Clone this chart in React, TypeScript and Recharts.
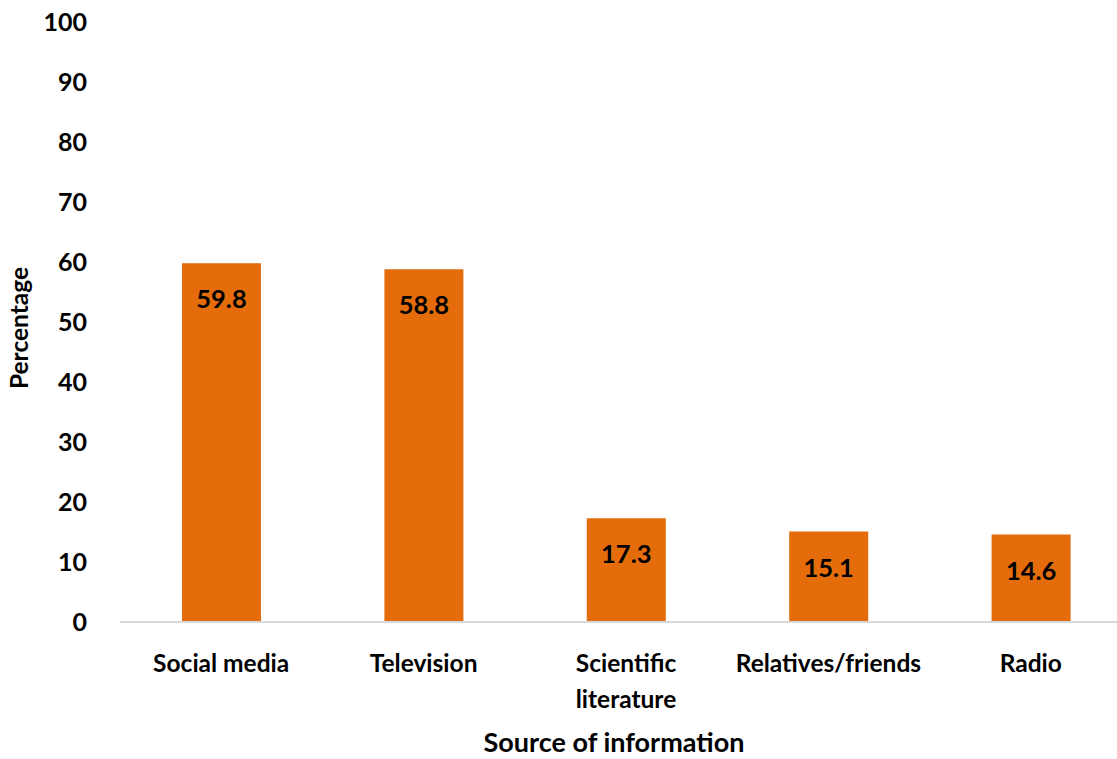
import { BarChart, Bar, XAxis, YAxis, LabelList } from "recharts";

const categories = ["Social media", "Television", "Scientific literature", "Relatives/friends", "Radio"];
const tickLines = [["Social media"], ["Television"], ["Scientific", "literature"], ["Relatives/friends"], ["Radio"]];
const percentages = [59.8, 58.8, 17.3, 15.1, 14.6];
const yTicks = [0, 10, 20, 30, 40, 50, 60, 70, 80, 90, 100];

const data = categories.map((name, i) => ({ name, value: percentages[i] }));

const FONT = "Lato, 'Liberation Sans', sans-serif";

const CategoryTick = (props: any) => {
  const { x, y, payload } = props;
  const lines = tickLines[payload.index] || [payload.value];
  return (
    <text x={x} y={y} textAnchor="middle" fontFamily={FONT} fontWeight={700} fontSize={24.5} fill="#000">
      {lines.map((line, i) => (
        <tspan key={i} x={x} dy={i === 0 ? 50 : 36}>
          {line}
        </tspan>
      ))}
    </text>
  );
};

const YTitle = (props: any) => {
  const { viewBox } = props;
  const cy = viewBox.y + viewBox.height / 2 + 6;
  return (
    <text
      x={28}
      y={cy}
      transform={`rotate(-90 28 ${cy})`}
      textAnchor="middle"
      fontFamily={FONT}
      fontWeight={700}
      fontSize={24.5}
      fill="#000"
    >
      Percentage
    </text>
  );
};

const XTitle = (props: any) => {
  const { viewBox } = props;
  const cx = viewBox.x + viewBox.width / 2 - 12;
  return (
    <text x={cx} y={752} textAnchor="middle" fontFamily={FONT} fontWeight={700} fontSize={27} fill="#000">
      Source of information
    </text>
  );
};

export default function App() {
  return (
    <div
      style={{
        position: "absolute",
        top: 0,
        left: 0,
        width: 1117,
        height: 759,
        overflow: "hidden",
        background: "#fff",
      }}
    >
      <BarChart
        width={1132}
        height={759}
        data={data}
        margin={{ top: 22, right: 0, bottom: 0, left: 0 }}
      >
        <XAxis
          dataKey="name"
          height={137}
          interval={0}
          tickLine={false}
          tickSize={0}
          tickMargin={0}
          axisLine={{ stroke: "#d9d9d9", strokeWidth: 2 }}
          tick={<CategoryTick />}
          label={<XTitle />}
        />
        <YAxis
          width={120}
          domain={[0, 100]}
          ticks={yTicks}
          interval={0}
          axisLine={false}
          tickLine={false}
          tickSize={0}
          tickMargin={33}
          tick={{ fontFamily: FONT, fontWeight: 700, fontSize: 25, fill: "#000" }}
          label={<YTitle />}
        />
        <Bar dataKey="value" fill="#E46C0A" barSize={79} isAnimationActive={false}>
          <LabelList
            dataKey="value"
            position="insideTop"
            offset={27}
            formatter={(v: any) => Number(v).toFixed(1)}
            style={{ fontFamily: FONT, fontWeight: 700, fontSize: 25.5, fill: "#000" }}
          />
        </Bar>
      </BarChart>
    </div>
  );
}
